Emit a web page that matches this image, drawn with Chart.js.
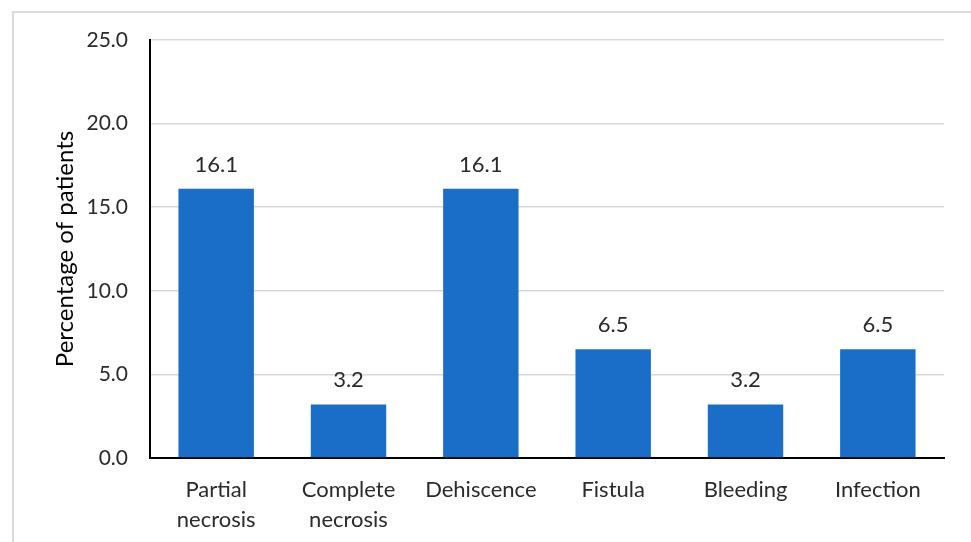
<!DOCTYPE html>
<html>
<head>
<meta charset="utf-8">
<script src="https://cdn.jsdelivr.net/npm/chart.js@4/dist/chart.umd.min.js"></script>
<style>
  html, body { margin: 0; padding: 0; background: #fff; }
  #wrap { position: relative; width: 971px; height: 542px; }
  #frame { position: absolute; left: 12px; top: 11px; right: 0; bottom: 0;
           border-left: 2px solid #dcdcdc; border-top: 2px solid #dcdcdc; pointer-events: none; }
  canvas { position: absolute; left: 0; top: 0; }
</style>
</head>
<body>
<div id="wrap">
  <canvas id="c" width="971" height="542"></canvas>
  <div id="frame"></div>
</div>
<script>
// Postoperative complications
const categories = [
  ["Partial", "necrosis"],
  ["Complete", "necrosis"],
  ["Dehiscence"],
  ["Fistula"],
  ["Bleeding"],
  ["Infection"]
];
const percentages = [16.1, 3.2, 16.1, 6.5, 3.2, 6.5];
const yTicks = [0, 5, 10, 15, 20, 25];

const FONT = "Lato, 'Open Sans', sans-serif";
const TEXT = "#2b2b2b";

// Value labels above each bar
const valueLabels = {
  id: "valueLabels",
  afterDatasetsDraw(chart) {
    const ctx = chart.ctx;
    const meta = chart.getDatasetMeta(0);
    ctx.save();
    ctx.font = "22px " + FONT;
    ctx.fillStyle = TEXT;
    ctx.textAlign = "center";
    ctx.textBaseline = "alphabetic";
    meta.data.forEach((bar, i) => {
      ctx.fillText(percentages[i].toFixed(1), bar.x, bar.y - 17);
    });
    ctx.restore();
  }
};

new Chart(document.getElementById("c"), {
  type: "bar",
  data: {
    labels: categories,
    datasets: [{
      data: percentages,
      backgroundColor: "#1a6ec8",
      borderWidth: 0,
      categoryPercentage: 1.0,
      barPercentage: 0.57
    }]
  },
  options: {
    responsive: false,
    animation: false,
    events: [],
    layout: { padding: { left: 0, right: 27, top: 40, bottom: 0 } },
    plugins: { legend: { display: false }, tooltip: { enabled: false } },
    scales: {
      x: {
        grid: { display: false, drawTicks: false },
        border: { display: true, color: "#000", width: 2 },
        ticks: { color: TEXT, font: { family: FONT, size: 22, lineHeight: 1.35 }, padding: 17, maxRotation: 0, autoSkip: false },
        afterFit(scale) { scale.height = 84; }
      },
      y: {
        min: 0, max: 25,
        afterBuildTicks(scale) { scale.ticks = yTicks.map(v => ({ value: v })); },
        grid: { color: "#d9d9d9", lineWidth: 1.5, drawTicks: false },
        border: { display: true, color: "#000", width: 2 },
        ticks: {
          color: TEXT, font: { family: FONT, size: 21 }, padding: 22,
          callback: v => Number(v).toFixed(1)
        },
        title: {
          display: true, text: "Percentage of patients", color: "#000",
          font: { family: FONT, size: 24 }, padding: { top: 51, bottom: 0 }
        },
        afterFit(scale) { scale.width = 150; }
      }
    }
  },
  plugins: [valueLabels]
});
</script>
</body>
</html>
